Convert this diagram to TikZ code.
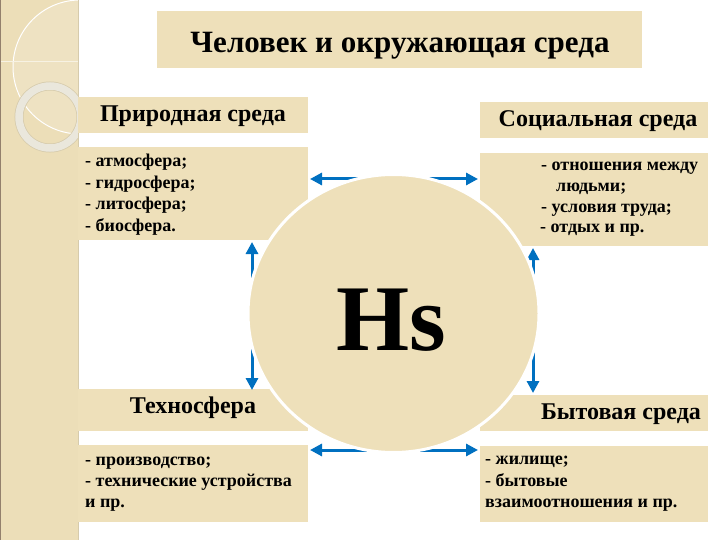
\documentclass[tikz,border=0pt]{standalone}
\usepackage{fontspec}
\setmainfont{Liberation Serif}
\usetikzlibrary{arrows.meta,shapes.geometric}
\definecolor{tanc}{RGB}{238,224,186}
\definecolor{stripc}{RGB}{236,222,184}
\definecolor{stripedge}{RGB}{214,203,172}
\definecolor{ringc}{RGB}{234,231,220}
\definecolor{arrowblue}{RGB}{0,112,192}
\begin{document}
\begin{tikzpicture}[x=1pt,y=-1pt,
  box/.style={fill=tanc, draw=none, inner sep=0, anchor=north west},
  titletext/.style={font=\bfseries\fontsize{31}{31}\selectfont, inner sep=0, anchor=base},
  headtext/.style={font=\bfseries\fontsize{24}{24}\selectfont, inner sep=0, anchor=base},
  listtext/.style={font=\bfseries\fontsize{18}{18}\selectfont, inner sep=0, anchor=base west},
  arr/.style={arrowblue, line width=3pt, {Triangle[length=12pt,width=12pt]}-{Triangle[length=12pt,width=12pt]}}
]
\useasboundingbox (0,0) rectangle (720,540);
\fill[white] (0,0) rectangle (720,540);
% left decorative strip
\fill[stripc] (0,0) rectangle (78,540);
\begin{scope}
  \clip (0,0) rectangle (78,540);
  \fill[white, opacity=0.15] (80,67) circle (67);
  \draw[white, line width=1pt] (80,67) circle (67);
  \draw[white!60!stripc, line width=0.6pt] (0,61) -- (78,61);
  \draw[stripedge, line width=9pt] (50,117) circle (31);
  \draw[ringc, line width=7.5pt] (50,117) circle (31);
\end{scope}
\draw[gray!70!brown, line width=1pt] (0.5,0) -- (0.5,540);
\draw[stripedge, line width=1.5pt] (78.5,0) -- (78.5,540);

% boxes
\node[box, minimum width=485pt, minimum height=57pt] (title) at (157,11) {};
\node[box, minimum width=230pt, minimum height=36pt] (phead) at (78,97) {};
\node[box, minimum width=230pt, minimum height=93pt] (plist) at (78,147) {};
\node[box, minimum width=228pt, minimum height=36pt] (shead) at (480,102) {};
\node[box, minimum width=228pt, minimum height=93pt] (slist) at (480,153) {};
\node[box, minimum width=230pt, minimum height=42pt] (thead) at (78,389) {};
\node[box, minimum width=230pt, minimum height=77pt] (tlist) at (78,445) {};
\node[box, minimum width=228pt, minimum height=36pt] (bhead) at (480,395) {};
\node[box, minimum width=228pt, minimum height=76pt] (blist) at (480,446) {};

% arrow end points
\coordinate (a1) at (310,179);
\coordinate (a2) at (478,179);
\coordinate (b1) at (310,450);
\coordinate (b2) at (478,450);
\coordinate (l1) at (252,242);
\coordinate (l2) at (252,390);
\coordinate (r1) at (533,248);
\coordinate (r2) at (533,393);
\draw[arr] (a1) -- (a2);
\draw[arr] (b1) -- (b2);
\draw[arr] (l1) -- (l2);
\draw[arr] (r1) -- (r2);

% central circle
\node[ellipse, fill=tanc, draw=white, line width=3pt, minimum width=291pt, minimum height=278pt, inner sep=0] (hs) at (393.5,313.5) {};
\node[font=\bfseries\fontsize{94}{94}\selectfont, inner sep=0, anchor=base] (hstext) at (391,350) {Hs};

% texts
\node[titletext] (tt) at (400,53) {Человек и окружающая среда};
\node[headtext] (pt) at (193,122) {Природная среда};
\node[headtext] (st) at (598,127) {Социальная среда};
\node[headtext] (tt2) at (193,413) {Техносфера};
\node[headtext] (bt) at (621,419) {Бытовая среда};

\node[listtext] (p1) at (85,167) {- атмосфера;};
\node[listtext] (p2) at (85,189) {- гидросфера;};
\node[listtext] (p3) at (85,210) {- литосфера;};
\node[listtext] (p4) at (85,231) {- биосфера.};

\node[listtext] (s1) at (541,171) {- отношения между};
\node[listtext] (s2) at (556,192) {людьми;};
\node[listtext] (s3) at (541,212) {- условия труда;};
\node[listtext] (s4) at (540,233) {- отдых и пр.};

\node[listtext] (t1) at (85,465) {- производство;};
\node[listtext] (t2) at (85,486) {- технические устройства};
\node[listtext] (t3) at (85,507) {и пр.};

\node[listtext] (b1t) at (485,464) {- жилище;};
\node[listtext] (b2t) at (485,486) {- бытовые};
\node[listtext] (b3t) at (485,507) {взаимоотношения и пр.};
\end{tikzpicture}
\end{document}
